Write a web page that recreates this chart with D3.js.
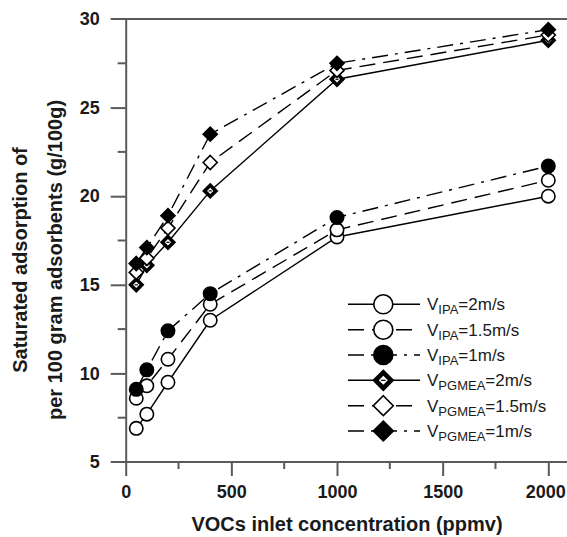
<!DOCTYPE html>
<html>
<head>
<meta charset="utf-8">
<script src="https://cdn.jsdelivr.net/npm/d3@7"></script>
<style>
body { margin: 0; background: #fff; }
svg { display: block; font-family: "Liberation Sans", Arial, sans-serif; }
</style>
</head>
<body>
<div id="chart"></div>
<script>
var width = 567;
var height = 537;

// data
var conc = [50, 100, 200, 400, 1000, 2000];
var ipa2 = [6.9, 7.7, 9.5, 13.0, 17.7, 20.0];
var ipa15 = [8.6, 9.3, 10.8, 13.9, 18.1, 20.9];
var ipa1 = [9.1, 10.2, 12.4, 14.5, 18.8, 21.7];
var pg2 = [15.0, 16.1, 17.4, 20.3, 26.6, 28.8];
var pg15 = [15.7, 16.5, 18.2, 21.9, 27.1, 29.1];
var pg1 = [16.2, 17.1, 18.9, 23.5, 27.5, 29.4];

var xTicks = [0, 500, 1000, 1500, 2000];
var xMinor = [250, 750, 1250, 1750];
var yTicks = [5, 10, 15, 20, 25, 30];
var yMinor = [7.5, 12.5, 17.5, 22.5, 27.5];

var series = [
  {sub: "IPA", rest: "=2m/s", values: ipa2, shape: "circle", style: "open", dash: null},
  {sub: "IPA", rest: "=1.5m/s", values: ipa15, shape: "circle", style: "open", dash: "16,8"},
  {sub: "IPA", rest: "=1m/s", values: ipa1, shape: "circle", style: "filled", dash: "16,7,3,7"},
  {sub: "PGMEA", rest: "=2m/s", values: pg2, shape: "diamond", style: "dotted", dash: null},
  {sub: "PGMEA", rest: "=1.5m/s", values: pg15, shape: "diamond", style: "open", dash: "16,8"},
  {sub: "PGMEA", rest: "=1m/s", values: pg1, shape: "diamond", style: "filled", dash: "16,7,3,7"}
];

var axisColor = "#5a5a5a";

var svg = d3.select("#chart").append("svg")
  .attr("width", width)
  .attr("height", height);

var x = d3.scaleLinear().domain([0, 2000]).range([125.7, 548.3]);
var y = d3.scaleLinear().domain([5, 30]).range([462, 19]);

// frame lines (top + bottom run off the right edge)
svg.append("line")
  .attr("x1", x(0) - 15).attr("x2", width)
  .attr("y1", y(30)).attr("y2", y(30))
  .attr("stroke", axisColor).attr("stroke-width", 2);
svg.append("line")
  .attr("x1", x(0) - 15).attr("x2", width)
  .attr("y1", y(5)).attr("y2", y(5))
  .attr("stroke", axisColor).attr("stroke-width", 2);

// y axis
var yAxis = svg.append("g")
  .attr("transform", "translate(" + x(0) + ",0)")
  .call(d3.axisLeft(y).tickValues(yTicks).tickFormat(d3.format("d"))
    .tickSize(15).tickSizeOuter(0).tickPadding(11));
yAxis.selectAll(".tick")
  .filter(function(d) { return d == 5 || d == 30; })
  .select("line").remove();
yAxis.selectAll(".tick line").attr("stroke", axisColor).attr("stroke-width", 2);
yAxis.select(".domain").attr("stroke", axisColor).attr("stroke-width", 2);
yAxis.selectAll("text")
  .style("font-size", "18px").style("font-weight", "bold").attr("fill", "#1a1a1a");

svg.append("g").selectAll("line")
  .data(yMinor).enter().append("line")
  .attr("x1", x(0) - 8).attr("x2", x(0))
  .attr("y1", function(d) { return y(d); })
  .attr("y2", function(d) { return y(d); })
  .attr("stroke", axisColor).attr("stroke-width", 2);

// x axis
var xAxis = svg.append("g")
  .attr("transform", "translate(0," + y(5) + ")")
  .call(d3.axisBottom(x).tickValues(xTicks).tickFormat(d3.format("d"))
    .tickSize(14).tickSizeOuter(0).tickPadding(9));
xAxis.select(".domain").remove();
xAxis.selectAll(".tick line").attr("stroke", axisColor).attr("stroke-width", 2);
xAxis.selectAll("text")
  .style("font-size", "18px").style("font-weight", "bold").attr("fill", "#1a1a1a");
// last label sits a little left so it stays inside the picture
xAxis.selectAll("text").filter(function(d) { return d == 2000; }).attr("dx", "-3");

svg.append("g").selectAll("line")
  .data(xMinor).enter().append("line")
  .attr("x1", function(d) { return x(d); })
  .attr("x2", function(d) { return x(d); })
  .attr("y1", y(5)).attr("y2", y(5) + 7)
  .attr("stroke", axisColor).attr("stroke-width", 2);

// axis titles
svg.append("text")
  .attr("x", 347).attr("y", 531)
  .attr("text-anchor", "middle")
  .style("font-size", "20px").style("font-weight", "bold")
  .attr("fill", "#1a1a1a")
  .text("VOCs inlet concentration (ppmv)");

var yTitle = svg.append("g").attr("transform", "translate(0,260)");
yTitle.append("text")
  .attr("transform", "translate(27,0) rotate(-90)")
  .attr("text-anchor", "middle")
  .style("font-size", "20px").style("font-weight", "bold")
  .attr("fill", "#1a1a1a")
  .text("Saturated adsorption of");
yTitle.append("text")
  .attr("transform", "translate(62,0) rotate(-90)")
  .attr("text-anchor", "middle")
  .style("font-size", "20px").style("font-weight", "bold")
  .attr("fill", "#1a1a1a")
  .text("per 100 gram adsorbents (g/100g)");

// marker drawing
function drawMarker(g, s, size) {
  if (s.shape == "circle") {
    g.append("circle")
      .attr("r", size)
      .attr("fill", s.style == "filled" ? "#000" : "#fff")
      .attr("stroke", "#000").attr("stroke-width", 1.6);
  } else {
    var d = size * 1.05;
    var dia = "M0," + (-d) + "L" + d + ",0L0," + d + "L" + (-d) + ",0Z";
    g.append("path")
      .attr("d", dia)
      .attr("fill", s.style == "filled" || s.style == "dotted" ? "#000" : "#fff")
      .attr("stroke", "#000").attr("stroke-width", 1.6);
    if (s.style == "dotted") {
      var e = d * 0.45;
      g.append("path")
        .attr("d", "M0," + (-e) + "L" + e + ",0L0," + e + "L" + (-e) + ",0Z")
        .attr("fill", "#fff");
      g.append("rect")
        .attr("x", -e * 0.5).attr("y", -0.6)
        .attr("width", e).attr("height", 1.2)
        .attr("fill", "#000");
    }
  }
}

var line = d3.line()
  .x(function(d, i) { return x(conc[i]); })
  .y(function(d) { return y(d); });

svg.append("g").selectAll("path")
  .data(series).enter().append("path")
  .attr("d", function(s) { return line(s.values); })
  .attr("fill", "none")
  .attr("stroke", "#000")
  .attr("stroke-width", 1.4)
  .attr("stroke-dasharray", function(s) { return s.dash; });

series.forEach(function(s) {
  s.values.forEach(function(v, i) {
    var g = svg.append("g")
      .attr("transform", "translate(" + x(conc[i]) + "," + y(v) + ")");
    drawMarker(g, s, 6.7);
  });
});

// legend
var legendY = [304.3, 329.7, 355, 380.3, 405.7, 431];
series.forEach(function(s, i) {
  var g = svg.append("g").attr("transform", "translate(0," + legendY[i] + ")");
  g.append("line")
    .attr("x1", 348).attr("x2", 420)
    .attr("stroke", "#000").attr("stroke-width", 1.4)
    .attr("stroke-dasharray", s.dash);
  var m = g.append("g").attr("transform", "translate(383.3,0)");
  drawMarker(m, s, 9.5);
  var t = g.append("text")
    .attr("x", 427).attr("y", 6)
    .style("font-size", "17px")
    .attr("fill", "#1a1a1a");
  t.append("tspan").text("V");
  t.append("tspan").attr("dy", 4).style("font-size", "13px").text(s.sub);
  t.append("tspan").attr("dy", -4).text(s.rest);
});
</script>
</body>
</html>
